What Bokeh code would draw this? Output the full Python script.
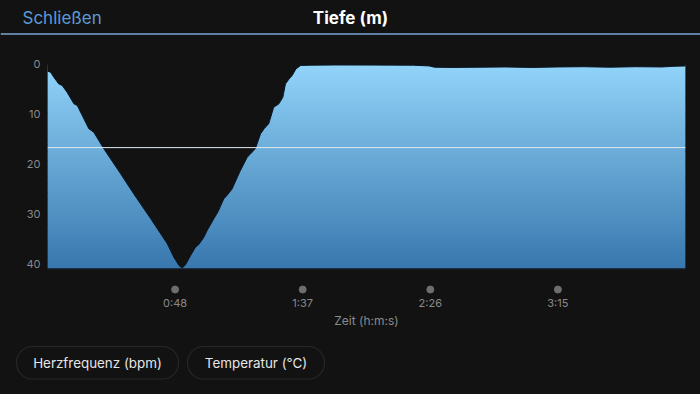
import numpy as np
from bokeh.plotting import figure
from bokeh.layouts import column
from bokeh.models import Range1d, FixedTicker, BoxAnnotation
from bokeh.core.properties import value
from bokeh.embed import file_html
from bokeh.resources import INLINE

# ---------------- data ----------------
time_s = [0.0, 1.2, 2.4, 4.3, 5.6, 7.5, 10.1, 11.4, 15.8, 17.7, 21.5, 27.9, 33.0,
          39.5, 45.8, 48.3, 50.3, 51.5, 52.8, 54.7, 56.6, 57.8, 59.8, 61.0, 63.6,
          65.2, 67.4, 68.8, 70.6, 73.5, 76.4, 77.6, 79.5, 81.5, 83.0, 84.6, 86.5,
          88.5, 90.0, 91.0, 92.4, 93.6, 95.0, 96.8, 100.0, 110.0, 125.0, 140.0,
          146.0, 148.0, 155.0, 165.0, 175.0, 185.0, 195.0, 205.0, 215.0, 225.0,
          235.0, 240.0, 244.0]
depth_m = [1.35, 1.55, 2.55, 3.9, 4.2, 5.6, 7.9, 8.25, 12.9, 13.6, 16.9, 21.9, 26.0,
           31.0, 36.0, 38.7, 40.4, 40.9, 40.2, 38.4, 36.7, 36.2, 34.7, 33.4, 31.0,
           29.6, 27.0, 26.2, 25.0, 21.6, 18.6, 18.0, 16.9, 13.9, 12.8, 11.9, 8.6,
           7.9, 6.6, 3.9, 2.9, 2.2, 0.9, 0.2, 0.15, 0.1, 0.12, 0.15,
           0.3, 0.55, 0.6, 0.55, 0.5, 0.6, 0.5, 0.45, 0.55, 0.45,
           0.5, 0.35, 0.3]
x_tick_s = [48.8, 97.6, 146.4, 195.2]
x_tick_labels = ["0:48", "1:37", "2:26", "3:15"]
y_ticks = [0, 10, 20, 30, 40]
marker_depth = 16.7
max_time = 244.0
max_axis_depth = 41.0
title_text = "Tiefe (m)"
close_text = "Schließen"
x_label = "Zeit (h:m:s)"
buttons = ["Herzfrequenz (bpm)", "Temperatur (°C)"]

BG = "#121212"
FONT = "Inter"
GREY = "#8a8a8a"


def style_plain(f):
    f.outline_line_color = None
    f.background_fill_color = None
    f.border_fill_color = None
    f.grid.visible = False
    if "frame_align" in f.properties():
        f.frame_align = False


def chrome_figure(h, y0, y1):
    f = figure(width=700, height=h, x_range=Range1d(0, 700), y_range=Range1d(y1, y0),
               output_backend="svg", toolbar_location=None,
               min_border=0, min_border_left=0, min_border_right=0,
               min_border_top=0, min_border_bottom=0)
    f.axis.visible = False
    style_plain(f)
    return f


# ---------------- header ----------------
header = chrome_figure(35, 0, 35)
header.text(x=[22], y=[17], text=[close_text], text_font=value(FONT),
            text_font_size="17px", text_color="#5a9bd5",
            text_align="left", text_baseline="middle")
header.text(x=[350], y=[17], text=[title_text], text_font=value(FONT),
            text_font_size="17px", text_font_style="bold", text_color="#ffffff",
            text_align="center", text_baseline="middle")
header.line(x=[0, 700], y=[33.5, 33.5], line_color="#7aa6d2", line_width=1.6)

# ---------------- chart ----------------
y_top = -1.2
y_bottom = 46.2
p = figure(width=700, height=305, x_range=Range1d(0, max_time),
           y_range=Range1d(y_bottom, y_top),
           output_backend="svg", toolbar_location=None,
           min_border_left=47, min_border_right=15,
           min_border_top=23, min_border_bottom=46)
style_plain(p)

# gradient fill beneath the profile (starts below the frame top so it never
# shares an edge with the mask)
grad_top = 0.0
bands = np.linspace(grad_top, max_axis_depth, 90)
c_top = np.array([146, 212, 250])
c_bot = np.array([57, 120, 174])
cols = []
for a, b in zip(bands[:-1], bands[1:]):
    f = ((a + b) / 2 - grad_top) / (max_axis_depth - grad_top)
    c = (c_top + (c_bot - c_top) * f).astype(int)
    cols.append("#%02x%02x%02x" % tuple(c))
bottoms = np.minimum(bands[1:] + 0.3, max_axis_depth)
p.quad(left=0, right=max_time, top=bands[:-1], bottom=bottoms,
       fill_color=cols, line_color=None)

# mask above the profile (its edges pushed outside the frame)
mask_x = [time_s[0] - 5] + time_s + [time_s[-1] + 5]
mask_y = [depth_m[0]] + depth_m + [depth_m[-1]]
p.varea(x=mask_x, y1=[y_top - 3] * len(mask_x), y2=mask_y, fill_color=BG)
p.line(x=time_s, y=depth_m, line_color="#0b1622", line_width=1)

# bottom edge
p.line(x=[0, max_time], y=[max_axis_depth, max_axis_depth], line_color="#1d2f45", line_width=1.2)

# marker line
p.line(x=[0, max_time], y=[marker_depth, marker_depth], line_color="#dfeaf0", line_width=1)

# tick dots
p.scatter(x=x_tick_s, y=[45.2] * len(x_tick_s), size=7, color="#6e6e6e")

# axes
for ax in (p.xaxis, p.yaxis):
    ax.axis_line_color = None
    ax.major_tick_line_color = None
    ax.minor_tick_line_color = None
    ax.major_tick_out = 0
    ax.major_tick_in = 0
    ax.minor_tick_out = 0
    ax.minor_tick_in = 0
    ax.major_label_text_color = GREY
    ax.major_label_text_font = FONT
    ax.major_label_text_font_size = "11px"

p.yaxis.ticker = FixedTicker(ticks=y_ticks)
p.yaxis.major_label_standoff = 7

p.xaxis.ticker = FixedTicker(ticks=x_tick_s)
p.xaxis.major_label_overrides = {t: l for t, l in zip(x_tick_s, x_tick_labels)}
p.xaxis.major_label_standoff = 1
p.xaxis.axis_label = x_label
p.xaxis.axis_label_text_color = GREY
p.xaxis.axis_label_text_font = FONT
p.xaxis.axis_label_text_font_size = "12px"
p.xaxis.axis_label_text_font_style = "normal"
p.xaxis.axis_label_standoff = 0

# ---------------- footer ----------------
footer = chrome_figure(54, 340, 394)
for (l, r), txt in zip([(16, 178), (187, 324)], buttons):
    footer.add_layout(BoxAnnotation(left=l, right=r, top=346, bottom=378.5,
                                    fill_alpha=0, line_color="#5a5a5a", line_width=1.2,
                                    border_radius=16))
    footer.text(x=[(l + r) / 2], y=[362.5], text=[txt], text_font=value(FONT),
                text_font_size="13.4px", text_color="#e6e6e6",
                text_align="center", text_baseline="middle")

layout = column(header, p, footer, spacing=0)
html = file_html(layout, INLINE)
html = html.replace("<head>", "<head><style>html,body{background:#121212;margin:0;}</style>", 1)
open("out.html", "w").write(html)
